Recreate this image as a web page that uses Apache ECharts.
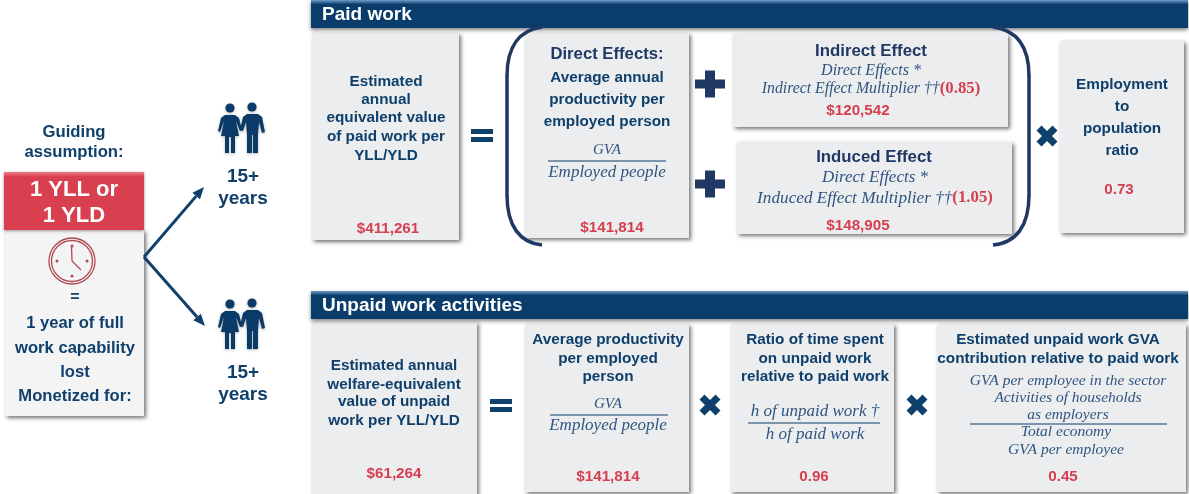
<!DOCTYPE html>
<html>
<head>
<meta charset="utf-8">
<style>html,body{margin:0;padding:0;background:#fff}#main{width:1189px;height:494px}</style>
<script src="https://cdn.jsdelivr.net/npm/echarts@6/dist/echarts.min.js"></script>
</head>
<body>
<div id="main"></div>
<script>
// texts and values
var guidingTitle=["Guiding","assumption:"];
var yllLines=["1 YLL or","1 YLD"];
var guidingLines=["1 year of full","work capability","lost","Monetized for:"];
var ageLines=["15+","years"];
var sectionTitles=["Paid work","Unpaid work activities"];
var paidValueLines=["Estimated","annual","equivalent value","of paid work per","YLL/YLD"];
var directLines=["Average annual","productivity per","employed person"];
var employmentLines=["Employment","to","population","ratio"];
var unpaidValueLines=["Estimated annual","welfare-equivalent","value of unpaid","work per YLL/YLD"];
var avgLines=["Average productivity","per employed","person"];
var ratioLines=["Ratio of time spent","on unpaid work","relative to paid work"];
var gvaLines=["Estimated unpaid work GVA","contribution relative to paid work"];
var gvaTop=["GVA per employee in the sector","Activities of households","as employers"];
var gvaBottom=["Total economy","GVA per employee"];
var paidValues=["$411,261","$141,814","$120,542","$148,905","0.73"];
var unpaidValues=["$61,264","$141,814","0.96","0.45"];
var multipliers=["(0.85)","(1.05)"];

var navy="#0f3f6b",title="#1f3864",red="#d63f4f",ital="#2f5580",bar="#0a3d6b";
var sans="Liberation Sans",serif="Liberation Serif";
var els=[];

function txt(x,y,s,color,size,weight,style,font){
	els.push({type:"text",x:x,y:y+1,z:20,style:{text:s,fill:color,align:"center",verticalAlign:"middle",
		font:(style||"normal")+" "+(weight||"bold")+" "+size+"px '"+(font||sans)+"'"}});
}
function lines(x,ys,arr,color,size){
	arr.forEach(function(s,i){txt(x,ys[i],s,color||navy,size||15.3);});
}
function math(x,y,s,size){
	txt(x,y,s,ital,size||17,"normal","italic",serif);
}
function box(x,y,w,h,fill){
	els.push({type:"rect",z:2,shape:{x:x,y:y,width:w,height:h},style:{fill:fill||"#ecedef",
		shadowBlur:4,shadowColor:"rgba(0,0,0,0.55)",shadowOffsetX:2,shadowOffsetY:2}});
}
function rule(x1,x2,y,color){
	els.push({type:"line",z:21,shape:{x1:x1,y1:y,x2:x2,y2:y},style:{stroke:color||navy,lineWidth:1}});
}
function header(y,s){
	els.push({type:"rect",z:3,shape:{x:311,y:y,width:877,height:28},style:{
		fill:new echarts.graphic.LinearGradient(0,0,0,1,[{offset:0,color:"#6d9cc8"},{offset:0.16,color:"#0a3d6b"},{offset:1,color:"#0a3d6b"}]),
		shadowBlur:4,shadowColor:"rgba(0,0,0,0.5)",shadowOffsetY:2}});
	els.push({type:"text",x:322,y:y+15,z:20,style:{text:s,fill:"#fff",align:"left",verticalAlign:"middle",font:"bold 19px '"+sans+"'"}});
}
function poly(points,fill,z){
	els.push({type:"polygon",z:z||20,shape:{points:points},style:{fill:fill||navy}});
}
function plus(cx,cy){
	els.push({type:"rect",z:20,shape:{x:cx-15,y:cy-4.5,width:30,height:9},style:{fill:title}});
	els.push({type:"rect",z:20,shape:{x:cx-5,y:cy-13.5,width:10,height:27},style:{fill:title}});
}
function cross(cx,cy){
	var a=10.5,b=5;
	poly([[cx-a,cy-a+b],[cx-a+b,cy-a],[cx,cy-b],[cx+a-b,cy-a],[cx+a,cy-a+b],[cx+b,cy],
		[cx+a,cy+a-b],[cx+a-b,cy+a],[cx,cy+b],[cx-a+b,cy+a],[cx-a,cy+a-b],[cx-b,cy]]);
}
function equal(x,y){
	els.push({type:"rect",z:20,shape:{x:x,y:y,width:22,height:5},style:{fill:navy}});
	els.push({type:"rect",z:20,shape:{x:x,y:y+8,width:22,height:5},style:{fill:navy}});
}
function bez(x1,y1,c1x,c1y,c2x,c2y,x2,y2){
	els.push({type:"bezierCurve",z:15,shape:{x1:x1,y1:y1,cpx1:c1x,cpy1:c1y,cpx2:c2x,cpy2:c2y,x2:x2,y2:y2},
		style:{stroke:title,lineWidth:3.5,fill:null}});
}
function vert(x,y1,y2){
	els.push({type:"line",z:15,shape:{x1:x,y1:y1,x2:x,y2:y2},style:{stroke:title,lineWidth:3.5}});
}
function arrow(x1,y1,x2,y2){
	var d=Math.sqrt((x2-x1)*(x2-x1)+(y2-y1)*(y2-y1)),ux=(x2-x1)/d,uy=(y2-y1)/d,l=12,w=5;
	els.push({type:"line",z:12,shape:{x1:x1,y1:y1,x2:x2-ux*l,y2:y2-uy*l},style:{stroke:navy,lineWidth:3}});
	poly([[x2,y2],[x2-ux*l-uy*w,y2-uy*l+ux*w],[x2-ux*l+uy*w,y2-uy*l-ux*w]]);
}
function couple(dy){
	var shadow={shadowBlur:3,shadowColor:"rgba(0,0,0,0.3)",shadowOffsetY:1,fill:"#0a3a68"};
	els.push({type:"group",y:dy,z:20,children:[
		{type:"circle",shape:{cx:230,cy:108,r:4.6},style:shadow},
		{type:"circle",shape:{cx:252,cy:107,r:4.6},style:shadow},
		{type:"polygon",style:shadow,shape:{points:[[225,115],[235,115],[239,118],[242,130],[240,131],[236,121],[239,136],[235,136],[235,153],[231,153],[231,137],[229,137],[229,153],[225,153],[225,136],[221,136],[224,121],[220,132],[218,131],[221,118]]}},
		{type:"polygon",style:shadow,shape:{points:[[247,114],[258,114],[262,117],[265,132],[262,133],[259,122],[258,135],[258,153],[253,153],[253,135],[252,135],[252,153],[247,153],[247,135],[246,122],[243,131],[240,130],[243,117]]}}
	]});
}
function clock(cx,cy){
	var c="#b04a52";
	[23,20.5].forEach(function(r){
		els.push({type:"circle",z:20,shape:{cx:cx,cy:cy,r:r},style:{fill:null,stroke:c,lineWidth:1.3}});
	});
	els.push({type:"line",z:20,shape:{x1:cx,y1:cy,x2:cx-0.5,y2:cy-14},style:{stroke:c,lineWidth:1.3}});
	els.push({type:"line",z:20,shape:{x1:cx,y1:cy,x2:cx+9,y2:cy+9},style:{stroke:c,lineWidth:1.3}});
	[[0,-15],[15,0],[0,15],[-15,0]].forEach(function(p){
		els.push({type:"circle",z:20,shape:{cx:cx+p[0],cy:cy+p[1],r:1.5},style:{fill:c}});
	});
}
function multiplierLine(x,y,s,m,size){
	els.push({type:"text",x:x,y:y,z:20,style:{text:"{a|"+s+"}{b|"+m+"}",align:"center",verticalAlign:"middle",
		rich:{a:{fill:ital,font:"italic normal "+size+"px '"+serif+"'"},b:{fill:red,font:"bold 16.8px '"+serif+"'"}}}});
}

// left column
lines(74,[131,151],guidingTitle,navy,16.7);
box(5,230,139,186,"#f4f4f4");
els.push({type:"rect",z:4,shape:{x:4,y:172,width:140,height:58},style:{
	fill:new echarts.graphic.LinearGradient(0,0,0,1,[{offset:0,color:"#ee7f88"},{offset:0.08,color:"#d9404f"},{offset:1,color:"#d9404f"}]),
	shadowBlur:3,shadowColor:"rgba(0,0,0,0.4)",shadowOffsetY:1}});
lines(74,[189,215],yllLines,"#fff",22);
clock(72,261);
txt(75,297,"=",navy,16);
lines(75,[322,347,371,395],guidingLines,navy,16.6);
arrow(144,257,204,187);
arrow(144,257,205,326);
couple(0);couple(196);
lines(243,[176,198],ageLines,navy,19);
lines(243,[372,394],ageLines,navy,19);

// paid work
header(0,sectionTitles[0]);
box(312,33,147,207);
lines(386,[81,99,117,136,155],paidValueLines);
txt(388,228,paidValues[0],red,15.2);
equal(471,129);
box(525,33,164,205);
txt(607,53,"Direct Effects:",title,16.7);
lines(607,[77,99,121],directLines);
math(607,149,"GVA",15);
rule(548,666,161);
math(607,172,"Employed people");
txt(612,227,paidValues[1],red,15.2);
plus(710,84);plus(710,184);
box(733,34,275,93);
txt(871,50,"Indirect Effect",title,16.8);
math(871,70,"Direct Effects *",16);
multiplierLine(871,89,"Indirect Effect Multiplier \u2020\u2020",multipliers[0],15.8);
txt(858,110,paidValues[2],red,15.2);
box(737,142,275,92);
txt(874,156,"Induced Effect",title,16.8);
math(875,177,"Direct Effects *",17);
multiplierLine(875,198,"Induced Effect Multiplier \u2020\u2020",multipliers[1],17.2);
txt(858,225,paidValues[3],red,15.2);
// brackets
bez(542,27,520,30,507,46,507,76);vert(507,75,196);bez(507,195,507,226,520,243,542,245);
bez(993,27,1016,30,1029,46,1029,76);vert(1029,75,196);bez(1029,195,1029,226,1016,243,993,245);
cross(1047,136);
box(1060,41,124,192);
lines(1122,[84,106,128,150],employmentLines);
txt(1119,189,paidValues[4],red,15.2);

// unpaid work
header(291,sectionTitles[1]);
box(312,322,165,176);
lines(394,[365,384,401,420],unpaidValueLines);
txt(394,473,unpaidValues[0],red,15.2);
equal(490,399);
box(525,324,164,168);
lines(608,[339,358,376],avgLines);
math(608,403,"GVA",15);
rule(550,668,415);
math(608,425,"Employed people");
txt(608,476,unpaidValues[1],red,15.2);
cross(710,405);
box(731,324,163,168);
lines(815,[339,358,376],ratioLines);
math(815,411,"h of unpaid work \u2020");
rule(748,880,423);
math(815,434,"h of paid work");
txt(814,476,unpaidValues[2],red,15.2);
cross(917,405);
box(937,324,249,168);
lines(1058,[339,358],gvaLines);
gvaTop.forEach(function(s,i){math(1068,[380,397,414][i],s,15.5);});
rule(970,1167,424);
gvaBottom.forEach(function(s,i){math(1066,[431,449][i],s,15.5);});
txt(1063,476,unpaidValues[3],red,15.2);

var myChart=echarts.init(document.getElementById("main"),null,{renderer:"canvas"});
myChart.setOption({backgroundColor:"#fff",animation:false,graphic:{elements:els}});
</script>
</body>
</html>
